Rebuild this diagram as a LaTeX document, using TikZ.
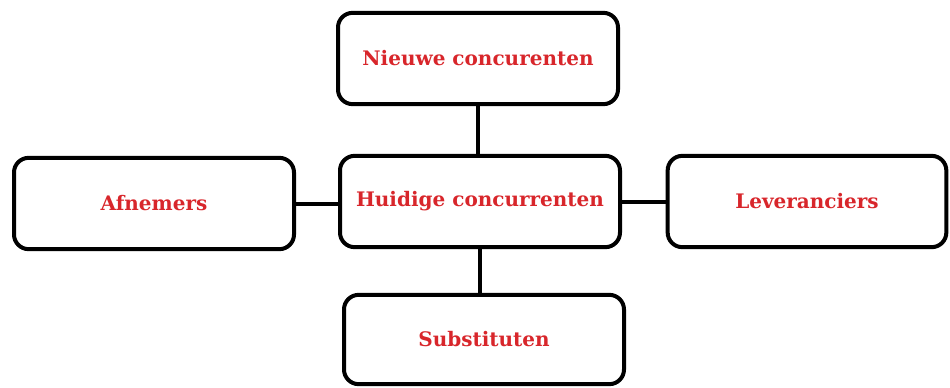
\documentclass[tikz,border=0pt]{standalone}
\usepackage{fontspec}
\setmainfont{DejaVu Serif}
\definecolor{porterred}{HTML}{D8262B}
\begin{document}
\begin{tikzpicture}[x=0.75pt,y=-0.75pt,line width=3pt,
	force/.style={draw,rounded corners=11pt,minimum width=210pt,minimum height=68.5pt,
	  font=\bfseries\fontsize{15}{18}\selectfont,text=porterred}]
	%frame
	\useasboundingbox (0,0) rectangle (950,387);
	
	%boxes
	\node[force] (huidig) at (480,201.5) {Huidige concurrenten}; %centre
	\node[force] (nieuw) at (478,58.5) {Nieuwe concurenten};
	\node[force] (afnemers) at (154,203.5) {Afnemers};
	\node[force,minimum width=209pt] (leveranciers) at (807,201.5) {Leveranciers};
	\node[force,minimum height=67pt] (substituten) at (484,339.5) {Substituten};
	
	%lines
	\draw (nieuw) -- (nieuw |- huidig.north);
	\draw (afnemers) -- (afnemers -| huidig.west);
	\draw (leveranciers) -- (leveranciers -| huidig.east);
	\draw (huidig) -- (huidig |- substituten.north);
\end{tikzpicture}
\end{document}
